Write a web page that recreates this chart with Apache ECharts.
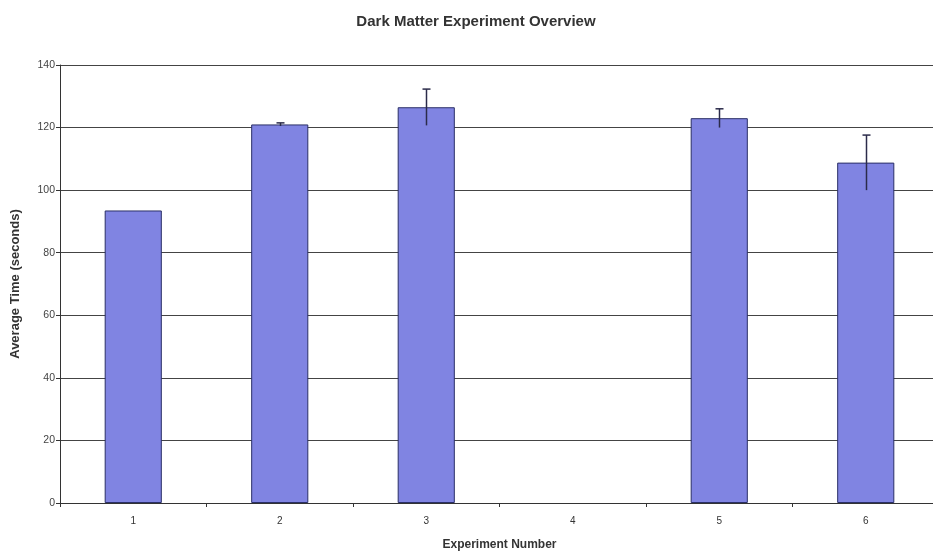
<!DOCTYPE html>
<html>
<head>
<meta charset="utf-8">
<script src="https://cdn.jsdelivr.net/npm/echarts@6/dist/echarts.min.js"></script>
<style>html,body{margin:0;padding:0;background:#fff;overflow:hidden}#c{width:933px;height:551px}</style>
</head>
<body>
<div id="c"></div>
<script>
const categories = ['1', '2', '3', '4', '5', '6'];
const avgTime = [93.5, 121, 126.5, null, 123, 108.8];
const errors = [null, 0.5, 5.8, null, 3, 8.8];
const yTicks = [0, 20, 40, 60, 80, 100, 120, 140];

const errData = categories.map((c, i) => (avgTime[i] == null || errors[i] == null) ? [i, null, null] : [i, avgTime[i] - errors[i], avgTime[i] + errors[i]]);

const chart = echarts.init(document.getElementById('c'));
chart.setOption({
  animation: false,
  backgroundColor: '#fff',
  title: {
    text: 'Dark Matter Experiment Overview',
    left: 471, textAlign: 'center', top: 9,
    textStyle: { fontFamily: 'Liberation Sans, Arial', fontSize: 15, fontWeight: 'bold', color: '#333' }
  },
  grid: { left: 60, width: 879, top: 65, height: 438, outerBoundsMode: 'none', containLabel: false },
  xAxis: {
    type: 'category',
    data: categories,
    name: 'Experiment Number',
    nameLocation: 'middle',
    nameGap: 36,
    nameTextStyle: { fontFamily: 'Liberation Sans, Arial', fontSize: 12, fontWeight: 'bold', color: '#333' },
    axisLine: { lineStyle: { color: '#333', width: 1 } },
    axisTick: { show: true, length: 4, lineStyle: { color: '#333' } },
    axisLabel: { fontFamily: 'Liberation Sans, Arial', fontSize: 10, color: '#333', margin: 13 },
    splitLine: { show: false }
  },
  yAxis: {
    type: 'value',
    min: 0, max: 140, interval: 20,
    name: 'Average Time (seconds)',
    nameLocation: 'middle',
    nameGap: 38,
    nameTextStyle: { fontFamily: 'Liberation Sans, Arial', fontSize: 13, fontWeight: 'bold', color: '#333' },
    axisLine: { show: true, lineStyle: { color: '#333', width: 1 } },
    axisTick: { show: true, length: 4, lineStyle: { color: '#333' } },
    axisLabel: { fontFamily: 'Liberation Sans, Arial', fontSize: 10.5, color: '#444', margin: 5,
      formatter: v => yTicks.includes(v) ? String(v) : '' },
    splitLine: { show: true, lineStyle: { color: '#444', width: 1 } }
  },
  series: [
    {
      type: 'bar',
      data: avgTime,
      barWidth: '39%',
      itemStyle: { color: '#8084E2', borderColor: '#2a2f66', borderWidth: 1 }
    },
    {
      type: 'custom',
      data: errData,
      z: 10,
      renderItem: function (params, api) {
        if (api.value(1) == null || isNaN(api.value(1))) return;
        const lo = api.coord([api.value(0), api.value(1)]);
        const hi = api.coord([api.value(0), api.value(2)]);
        const x = Math.round(hi[0]) + 0.5;
        return {
          type: 'group',
          children: [
            { type: 'line', shape: { x1: x, y1: lo[1], x2: x, y2: hi[1] }, style: { stroke: '#2b2b4a', lineWidth: 1.5 } },
            { type: 'line', shape: { x1: x - 4, y1: hi[1], x2: x + 4, y2: hi[1] }, style: { stroke: '#2b2b4a', lineWidth: 1.5 } }
          ]
        };
      }
    }
  ]
});
</script>
</body>
</html>
